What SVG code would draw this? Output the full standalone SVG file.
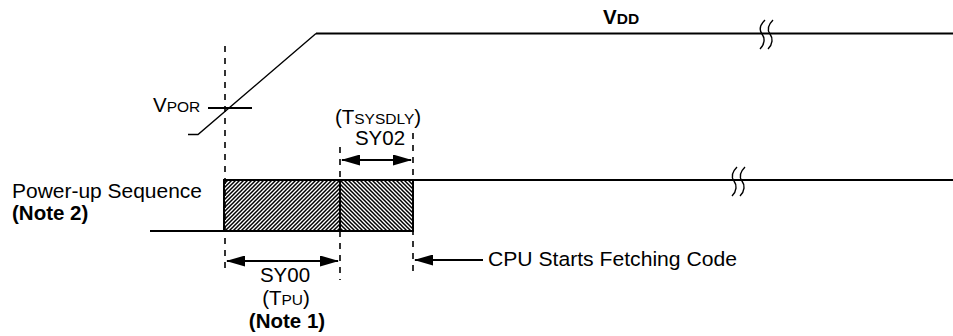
<svg xmlns="http://www.w3.org/2000/svg" width="953" height="336" viewBox="0 0 953 336">
<style>
.ln{stroke:#000;stroke-width:2;fill:none}
.thin{stroke:#000;stroke-width:1.4;fill:none}
.dash{stroke:#000;stroke-width:1.6;stroke-dasharray:6 6;fill:none}
.arr{stroke:#000;stroke-width:2;fill:none;marker-end:url(#ah);marker-start:url(#ah)}
.arr1{stroke:#000;stroke-width:2;fill:none;marker-end:url(#ah)}
.sq{stroke:#000;stroke-width:1.4;fill:none}
.hl{stroke:#000;stroke-width:1.5;fill:none}
text{font-family:"Liberation Sans",Arial,sans-serif;font-size:20.5px;fill:#000}
.b{font-weight:bold}
.sm{font-size:15.5px}
.c{text-anchor:middle}
</style>
<defs>
<marker id="ah" markerUnits="userSpaceOnUse" markerWidth="19" markerHeight="11" viewBox="0 0 19 11" refX="18" refY="5.5" orient="auto-start-reverse">
<path d="M0,0 L19,5.5 L0,11 z" fill="#000"/>
</marker>
<pattern id="hatchA" patternUnits="userSpaceOnUse" x="0" y="0" width="4" height="4">
<rect width="4" height="4" fill="#fff"/>
<path class="hl" d="M-1,5 L5,-1 M-1,1 L1,-1 M3,5 L5,3"/>
</pattern>
<pattern id="hatchB" patternUnits="userSpaceOnUse" x="0" y="0" width="4" height="4">
<rect width="4" height="4" fill="#fff"/>
<path class="hl" d="M-1,-1 L5,5 M3,-1 L5,1 M-1,3 L1,5"/>
</pattern>
<path id="squig" d="M3,0 C-3,6 -3,10 0,14 C3,18 3,24 -2,29"/>
</defs>

<g id="vdd">
<path class="thin" d="M188,134.5 L198,134.5 L316,33.5"/>
<line class="ln" x1="316" y1="33.5" x2="953" y2="33.5"/>
<g class="sq"><use href="#squig" x="762" y="20"/><use href="#squig" x="770" y="20"/></g>
<text x="603" y="24" class="b">V<tspan class="sm">DD</tspan></text>
</g>

<g id="vpor">
<line class="ln" x1="208" y1="108" x2="252" y2="108"/>
<text x="153" y="112">V<tspan class="sm">POR</tspan></text>
</g>

<g id="sequence">
<line class="ln" x1="150" y1="231" x2="224" y2="231"/>
<rect x="224" y="180" width="116" height="51" fill="url(#hatchA)" stroke="#000" stroke-width="2"/>
<rect x="340" y="180" width="73" height="51" fill="url(#hatchB)" stroke="#000" stroke-width="2"/>
<line class="ln" x1="413" y1="180" x2="953" y2="180"/>
<g class="sq"><use href="#squig" x="734" y="167"/><use href="#squig" x="742" y="167"/></g>
<text x="12" y="198" textLength="190" lengthAdjust="spacingAndGlyphs">Power-up Sequence</text>
<text x="12" y="220" class="b">(Note 2)</text>
</g>

<g id="connectors">
<line class="dash" x1="225" y1="46" x2="225" y2="272"/>
<line class="dash" x1="340" y1="147" x2="340" y2="280"/>
<line class="dash" x1="413" y1="133" x2="413" y2="277"/>
<line class="arr" x1="342" y1="160" x2="411" y2="160"/>
<line class="arr" x1="227" y1="261" x2="338" y2="261"/>
<line class="arr1" x1="483" y1="260" x2="415" y2="260"/>
</g>

<g id="sy02">
<text x="378" y="124" class="c">(T<tspan class="sm">SYSDLY</tspan>)</text>
<text x="380" y="145" class="c">SY02</text>
</g>

<g id="sy00">
<text x="285" y="282" class="c">SY00</text>
<text x="286" y="305" class="c">(T<tspan class="sm">PU</tspan>)</text>
<text x="287" y="328" class="c b">(Note 1)</text>
</g>

<g id="cpu">
<text x="488" y="266" textLength="249" lengthAdjust="spacingAndGlyphs">CPU Starts Fetching Code</text>
</g>
</svg>
